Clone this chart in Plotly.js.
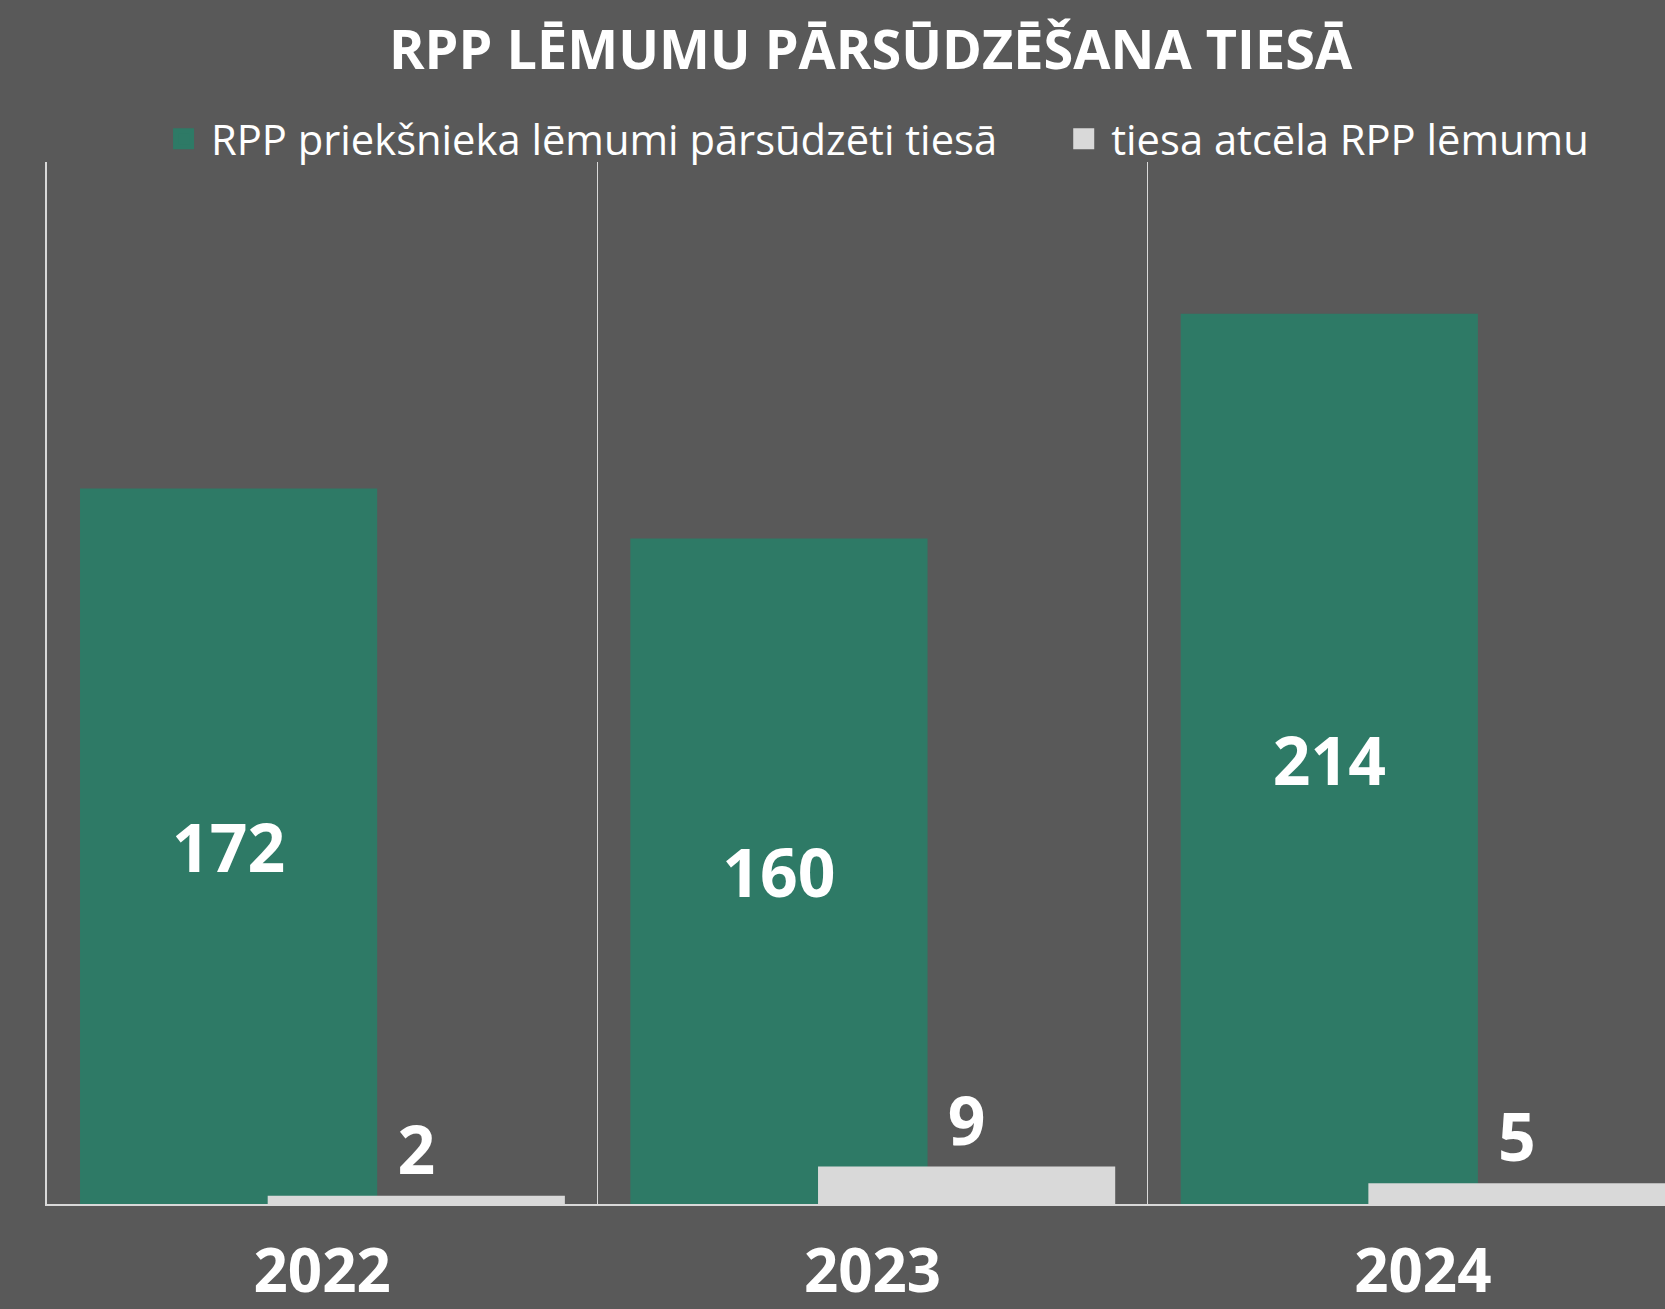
<!DOCTYPE html>
<html>
<head>
<meta charset="utf-8">
<script src="https://cdn.plot.ly/plotly-3.0.1.min.js"></script>
<style>html,body{margin:0;padding:0;background:#595959;}</style>
</head>
<body>
<div id="chart" style="width:1665px;height:1309px;"></div>
<script>
const years = ['2022', '2023', '2024'];
const appealed = [172, 160, 214];
const annulled = [2, 9, 5];
const seriesNames = ['RPP priekšnieka lēmumi pārsūdzēti tiesā', 'tiesa atcēla RPP lēmumu'];
const seriesColors = ['#2e7a66', '#d9d9d9'];
const chartTitle = 'RPP LĒMUMU PĀRSŪDZĒŠANA TIESĀ';

const FONT = 'Open Sans, Noto Sans, sans-serif';
const labelFont = {family: FONT, size: 66, color: '#ffffff', weight: 'bold'};
const legendPad = '\u00A0\u00A0\u00A0\u00A0\u00A0';

const traces = [
  {
    type: 'bar', name: seriesNames[0], x: years, y: appealed,
    width: 0.54, offset: -0.44, showlegend: false,
    marker: {color: seriesColors[0]},
    text: appealed.map(String), textposition: 'inside', insidetextanchor: 'middle',
    textfont: labelFont, constraintext: 'none', hoverinfo: 'none'
  },
  {
    type: 'bar', name: seriesNames[1], x: years, y: annulled,
    width: 0.54, offset: -0.099, showlegend: false,
    marker: {color: seriesColors[1]},
    text: annulled.map(String), textposition: 'outside',
    textfont: labelFont, constraintext: 'none', cliponaxis: false, hoverinfo: 'none'
  }
];
// legend proxies (larger square swatches than bar legend symbols)
seriesNames.forEach(function (nm, i) {
  traces.push({
    type: 'scatter', mode: 'markers', name: i === 0 ? nm + legendPad : nm, x: [null], y: [null],
    marker: {symbol: 'square', size: 16, color: seriesColors[i], line: {color: seriesColors[i], width: 5}},
    hoverinfo: 'none', showlegend: true
  });
});

const layout = {
  width: 1665, height: 1309,
  paper_bgcolor: '#595959', plot_bgcolor: '#595959',
  margin: {l: 47, r: 0, t: 162, b: 105},
  barmode: 'overlay',
  title: {
    text: '<b>' + chartTitle + '</b>',
    font: {family: FONT, size: 54, color: '#ffffff'},
    xref: 'paper', x: 0.509, xanchor: 'center',
    yref: 'container', y: 0.962, yanchor: 'middle'
  },
  showlegend: true,
  legend: {
    orientation: 'h', xref: 'paper', x: 0.0674, xanchor: 'left',
    y: 1.022, yanchor: 'middle',
    itemwidth: 45,
    font: {family: FONT, size: 41.7, color: '#ffffff'},
    bgcolor: 'rgba(0,0,0,0)', traceorder: 'normal'
  },
  xaxis: {
    type: 'category', range: [-0.5, 2.44],
    tickson: 'boundaries', showgrid: true, gridcolor: '#d9d9d9', gridwidth: 1.5,
    showline: true, linecolor: '#d9d9d9', linewidth: 2,
    ticks: '', ticklabelstandoff: 14,
    tickfont: {family: FONT, size: 60, color: '#ffffff', weight: 'bold'},
    zeroline: false, fixedrange: true
  },
  yaxis: {
    range: [0, 250.5], showgrid: false, zeroline: false,
    showticklabels: false, ticks: '',
    showline: true, linecolor: '#d9d9d9', linewidth: 2, fixedrange: true
  }
};

Plotly.newPlot('chart', traces, layout, {displayModeBar: false, staticPlot: true});
</script>
</body>
</html>
